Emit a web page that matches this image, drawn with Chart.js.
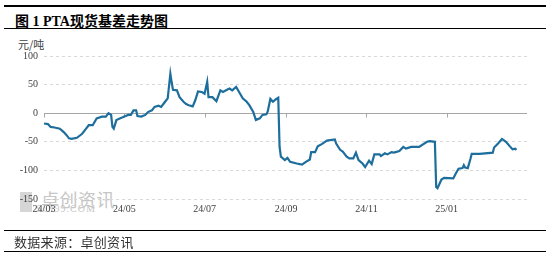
<!DOCTYPE html>
<html>
<head>
<meta charset="utf-8">
<script src="https://cdn.jsdelivr.net/npm/chart.js@4/dist/chart.umd.min.js"></script>
<style>
  body { margin: 0; width: 550px; height: 253px; position: relative; background: #fff; overflow: hidden; }
  .rule { position: absolute; left: 4px; right: 4px; height: 0; border-top: 1px solid #000; }
  #title { position: absolute; left: 15px; top: 10px; font: bold 14px "Liberation Serif", "Noto Sans CJK SC", serif; color: #000; white-space: nowrap; }
  #unit { position: absolute; left: 18px; top: 36px; font: 11px "Noto Sans CJK SC", sans-serif; color: #404040; }
  #src { position: absolute; left: 14px; top: 232px; font: 13px "Noto Sans CJK SC", sans-serif; color: #333; letter-spacing: 0.3px; }
  #wmBox { position: absolute; left: 20px; top: 192px; width: 12px; height: 20px; background: #d6d6d6; }
  #wmText { position: absolute; left: 41px; top: 186px; font: 18px "Noto Sans CJK SC", sans-serif; color: #c6c6c6; letter-spacing: 0.5px; }
  #wmUrl { position: absolute; left: 36px; top: 203px; font: 10px "Liberation Serif", serif; color: #c6c6c6; letter-spacing: 1px; }
  #c { position: absolute; left: 0; top: 0; }
</style>
</head>
<body>
<div class="rule" style="top:5px;border-top-width:2px"></div>
<div id="title">图 1 PTA现货基差走势图</div>
<div class="rule" style="top:28px"></div>
<div id="unit">元/吨</div>
<div id="wmBox"></div>
<div id="wmText">卓创资讯</div>
<div id="wmUrl">SCI99.COM</div>
<canvas id="c" width="550" height="253"></canvas>
<div class="rule" style="top:230px"></div>
<div id="src">数据来源：卓创资讯</div>
<div class="rule" style="top:251px"></div>

<script>
// PTA spot basis, yuan/ton
const dates = [
  '2024-03-01', '2024-03-04', '2024-03-06', '2024-03-09', '2024-03-13', '2024-03-16', '2024-03-18', '2024-03-20',
  '2024-03-22', '2024-03-26', '2024-03-30', '2024-04-02', '2024-04-04', '2024-04-07', '2024-04-10', '2024-04-14',
  '2024-04-17', '2024-04-19', '2024-04-21', '2024-04-22', '2024-04-23', '2024-04-25', '2024-04-28', '2024-05-02',
  '2024-05-04', '2024-05-06', '2024-05-08', '2024-05-10', '2024-05-11', '2024-05-14', '2024-05-17', '2024-05-19',
  '2024-05-22', '2024-05-24', '2024-05-27', '2024-05-29', '2024-06-01', '2024-06-03', '2024-06-05', '2024-06-06',
  '2024-06-07', '2024-06-10', '2024-06-12', '2024-06-15', '2024-06-17', '2024-06-19', '2024-06-22', '2024-06-24',
  '2024-06-26', '2024-06-29', '2024-07-01', '2024-07-03', '2024-07-04', '2024-07-07', '2024-07-10', '2024-07-13',
  '2024-07-15', '2024-07-18', '2024-07-20', '2024-07-22', '2024-07-25', '2024-07-28', '2024-07-30', '2024-08-02',
  '2024-08-04', '2024-08-07', '2024-08-09', '2024-08-12', '2024-08-14', '2024-08-17', '2024-08-18', '2024-08-20',
  '2024-08-22', '2024-08-24', '2024-08-26', '2024-08-27', '2024-08-28', '2024-08-31', '2024-09-02', '2024-09-04',
  '2024-09-09', '2024-09-13', '2024-09-16', '2024-09-19', '2024-09-20', '2024-09-23', '2024-09-25', '2024-09-28',
  '2024-10-02', '2024-10-08', '2024-10-09', '2024-10-12', '2024-10-14', '2024-10-17', '2024-10-19', '2024-10-22',
  '2024-10-24', '2024-10-26', '2024-10-29', '2024-10-31', '2024-11-03', '2024-11-05', '2024-11-07', '2024-11-11',
  '2024-11-12', '2024-11-15', '2024-11-17', '2024-11-20', '2024-11-22', '2024-11-26', '2024-11-29', '2024-12-01',
  '2024-12-05', '2024-12-11', '2024-12-17', '2024-12-19', '2024-12-23', '2024-12-24', '2024-12-25', '2024-12-28',
  '2024-12-30', '2025-01-06', '2025-01-08', '2025-01-10', '2025-01-13', '2025-01-14', '2025-01-15', '2025-01-17',
  '2025-01-19', '2025-01-20', '2025-01-26', '2025-02-05', '2025-02-06', '2025-02-09', '2025-02-12', '2025-02-15',
  '2025-02-18', '2025-02-20', '2025-02-22', '2025-02-23'
];
const basis = [
  -18, -19, -24, -25, -27, -33, -38, -44,
  -45, -43, -36, -27, -21, -21, -9, -6,
  -6, 0, -3, -24, -27, -12, -9, -5,
  -3, -3, 5, 5, -5, -6, -3, 2,
  5, 11, 13, 11, 20, 26, 69, 54,
  41, 40, 28, 20, 16, 14, 12, 23,
  38, 37, 34, 55, 28, 28, 21, 40,
  37, 41, 43, 40, 46, 34, 26, 20,
  14, 2, -12, -9, -3, -2, 3, 25,
  20, 24, 27, -59, -76, -82, -78, -85,
  -88, -90, -85, -81, -68, -68, -58, -54,
  -48, -46, -53, -64, -67, -76, -79, -79,
  -69, -82, -88, -94, -83, -89, -72, -72,
  -75, -70, -72, -68, -69, -66, -59, -62,
  -59, -59, -50, -49, -50, -129, -131, -116,
  -113, -114, -105, -97, -96, -91, -95, -96,
  -80, -71, -71, -69, -60, -53, -45, -50,
  -58, -63, -62, -64
];

const axisStart = '2024-03-01';
const axisEnd = '2025-03-03';
const tickDates = ['2024-03-01', '2024-05-01', '2024-07-01', '2024-09-01', '2024-11-01', '2025-01-01'];
const tickLabels = ['24/03', '24/05', '24/07', '24/09', '24/11', '25/01'];
const yTicks = [-150, -100, -50, 0, 50, 100];

function dayOf(s) {
  const [y, m, d] = s.split('-').map(Number);
  const [y0, m0, d0] = axisStart.split('-').map(Number);
  return (Date.UTC(y, m - 1, d) - Date.UTC(y0, m0 - 1, d0)) / 86400000;
}

const tickFont = { family: '"Liberation Serif", serif', size: 10 };

// solid zero line with little tick marks, like the x axis sitting on 0
const zeroLine = {
  id: 'zeroLine',
  beforeDatasetsDraw(chart) {
    const { ctx, chartArea, scales } = chart;
    const y = Math.round(scales.y.getPixelForValue(0)) + 0.5;
    ctx.save();
    ctx.strokeStyle = '#a6a6a6';
    ctx.lineWidth = 1;
    ctx.beginPath();
    ctx.moveTo(chartArea.left, y);
    ctx.lineTo(chartArea.right, y);
    scales.x.ticks.forEach(t => {
      const x = Math.round(scales.x.getPixelForValue(t.value)) + 0.5;
      ctx.moveTo(x, y);
      ctx.lineTo(x, y + 4);
    });
    ctx.stroke();
    ctx.restore();
  }
};

new Chart(document.getElementById('c'), {
  type: 'line',
  data: {
    datasets: [{
      data: dates.map((d, i) => ({ x: dayOf(d), y: basis[i] })),
      borderColor: '#1d6e9d',
      borderWidth: 2.2,
      pointRadius: 0,
      tension: 0,
      fill: false
    }]
  },
  options: {
    responsive: false,
    animation: false,
    layout: { padding: { top: 56, right: 23, bottom: 34, left: 0 } },
    plugins: { legend: { display: false }, tooltip: { enabled: false } },
    scales: {
      x: {
        type: 'linear',
        min: 0,
        max: dayOf(axisEnd),
        afterBuildTicks: scale => { scale.ticks = tickDates.map(d => ({ value: dayOf(d) })); },
        afterFit: scale => { scale.height = 20; },
        grid: { display: false, drawTicks: false },
        border: { display: false },
        ticks: {
          autoSkip: false,
          maxRotation: 0,
          padding: 4,
          color: '#404040',
          font: tickFont,
          callback: v => tickLabels[tickDates.findIndex(d => dayOf(d) === v)]
        }
      },
      y: {
        min: -150,
        max: 100,
        afterBuildTicks: scale => { scale.ticks = yTicks.map(v => ({ value: v })); },
        afterFit: scale => { scale.width = 44; },
        grid: {
          drawTicks: false,
          color: ctx => (ctx.tick && ctx.tick.value === 0) ? 'rgba(0,0,0,0)' : '#d9d9d9'
        },
        border: { display: false, dash: [3, 3] },
        ticks: { padding: 6, color: '#404040', font: tickFont }
      }
    }
  },
  plugins: [zeroLine]
});
</script>
</body>
</html>
